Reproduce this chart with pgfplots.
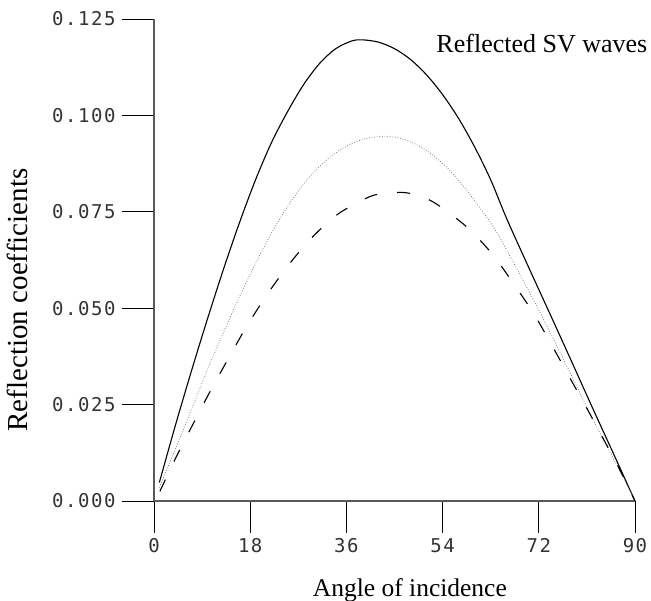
\documentclass[border=0pt]{standalone}
\usepackage{pgfplots}
\pgfplotsset{compat=1.18}
\usepackage{fontspec}
\setmainfont{Liberation Serif}
\newfontfamily\tickfont[LetterSpace=8]{DejaVu Sans Mono}
\begin{document}
\begin{tikzpicture}
\begin{axis}[
  at={(154bp,100bp)}, anchor=south west,
  width=481bp, height=482bp, scale only axis,
  xmin=0, xmax=90, ymin=0, ymax=0.125,
  axis lines*=left,
  axis line style={draw=black!65, line width=1.4bp},
  xtick={0,18,36,54,72,90},
  ytick={0,0.025,0.05,0.075,0.1,0.125},
  tick align=outside, major tick length=32bp,
  tick style={black, line width=0.9bp},
  /pgf/number format/assume math mode=true,
  tick label style={font=\tickfont\fontsize{19bp}{22bp}\selectfont, black!80},
  yticklabel style={xshift=-3bp, /pgf/number format/.cd, fixed, fixed zerofill, precision=3},
  xticklabel style={yshift=-2bp},
  scaled y ticks=false,
  xlabel={Angle of incidence},
  ylabel={Reflection coefficients},
  xlabel style={font=\fontsize{25.5bp}{30bp}\selectfont, at={(axis description cs:0.532,-0.199)}, anchor=base},
  ylabel style={font=\fontsize{29bp}{33bp}\selectfont, at={(axis description cs:-0.262,0.417)}, anchor=base, rotate=0},
  clip=false,
]
\addplot[black, line width=1.1bp, smooth, tension=0.5] coordinates {
(1,0.0048) (4,0.0196) (7,0.0337) (10,0.0472) (13,0.0601) (16,0.0722)
(19,0.0833) (22,0.0930) (25,0.1010) (28,0.1080) (31,0.1135)
(34,0.1173) (37,0.1193) (39,0.1196) (42,0.1190) (45,0.1173)
(48,0.1145) (51,0.1105) (54,0.1054) (57,0.0992) (60,0.0918)
(63,0.0833) (66,0.0732) (70,0.0609) (74,0.0488) (78,0.0366)
(82,0.0243) (86,0.0122) (90,0)
};
\addplot[black!55, line width=0.7bp, dash pattern=on 0.8bp off 1.8bp, smooth, tension=0.5] coordinates {
(1,0.0035) (4,0.0135) (7,0.0237) (10,0.0340) (13,0.0437) (16,0.0530)
(19,0.0616) (22,0.0695) (25,0.0764) (28,0.0822) (31,0.0868)
(34,0.0903) (37,0.0927) (40,0.0941) (43,0.0946) (46,0.0941)
(49,0.0925) (52,0.0899) (55,0.0862) (58,0.0815) (61,0.0760)
(64,0.0700) (67,0.0625) (70,0.0548) (73,0.0468) (76,0.0385)
(79,0.0300) (82,0.0215) (85,0.0135) (88,0.0055) (90,0)
};
\addplot[black, line width=1.1bp, dash pattern=on 13bp off 20bp, smooth, tension=0.5] coordinates {
(1.1,0.0025) (4.5,0.0124) (7.7,0.021) (10.8,0.0292) (14.1,0.0374)
(17.3,0.0452) (21.1,0.0534) (25.0,0.0609) (29.4,0.0681) (34.4,0.0744)
(40.3,0.0789) (43.5,0.0798) (46.8,0.0800) (50,0.0790) (53.1,0.0768)
(58.5,0.0711) (63.2,0.0642) (67.2,0.0565) (71.0,0.0487) (74.4,0.0405)
(77.7,0.0322) (81.0,0.024) (84.2,0.0158) (87.2,0.008) (90,0)
};
\node[anchor=base west, font=\fontsize{26bp}{30bp}\selectfont]
  at (axis description cs:0.58,0.9315) {Reflected SV waves};
\end{axis}
\pgfresetboundingbox
\path[use as bounding box] (0,0) rectangle (651bp,601bp);
\end{tikzpicture}
\end{document}
